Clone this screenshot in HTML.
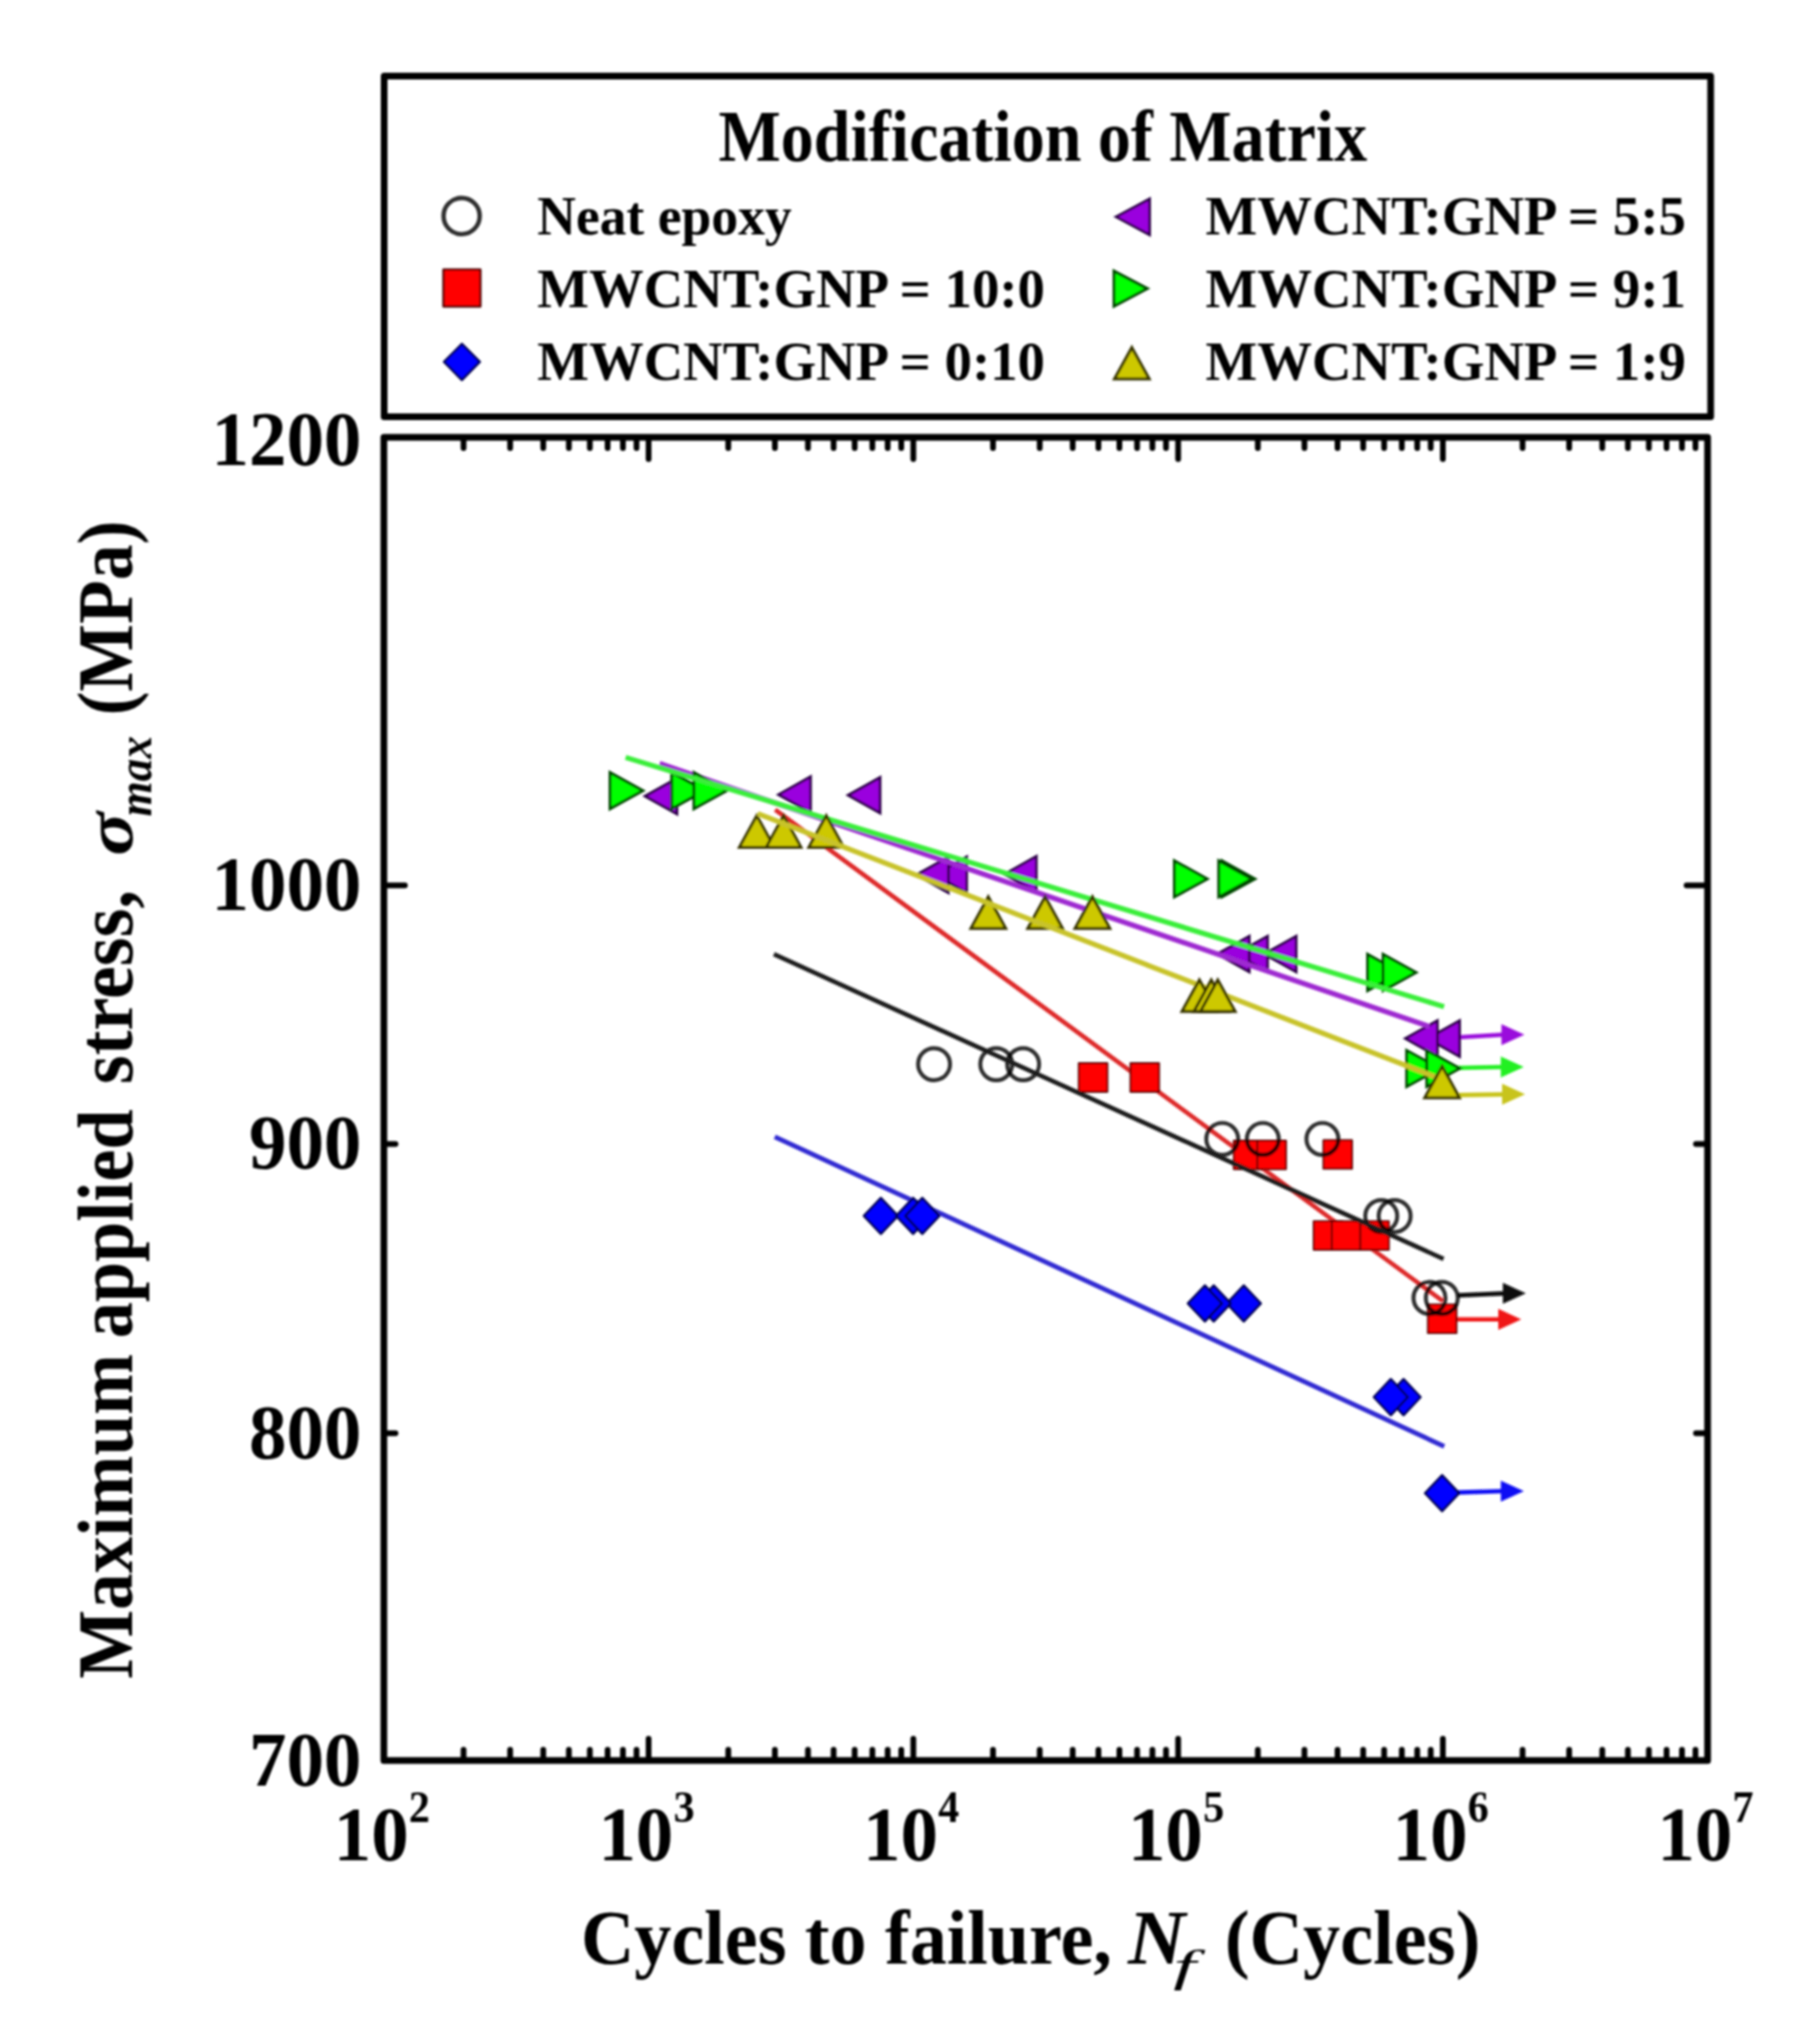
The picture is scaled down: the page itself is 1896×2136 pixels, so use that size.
<!DOCTYPE html>
<html lang="en"><head><meta charset="utf-8"><title>S-N curve: Modification of Matrix</title>
<style>
html,body{margin:0;padding:0;background:#fff;}
body{width:1896px;height:2136px;overflow:hidden;}
svg{display:block;}
text{font-family:"Liberation Serif","DejaVu Serif",serif;font-weight:bold;fill:#000;}
.it{font-style:italic;font-weight:normal;}
.bi{font-style:italic;font-weight:bold;}
.ax{stroke:#000;stroke-linecap:butt;stroke-linejoin:round;fill:none;}
</style></head><body>
<svg width="1896" height="2136" viewBox="0 0 1896 2136">
<defs><filter id="soft" x="-2%" y="-2%" width="104%" height="104%"><feGaussianBlur stdDeviation="1.0"/></filter></defs>
<rect x="0" y="0" width="1896" height="2136" fill="#fff"/>
<g filter="url(#soft)">
<rect class="ax" x="401.5" y="79.5" width="1386.5" height="356.0" stroke-width="7.0"/>
<rect class="ax" x="401.2" y="456.9" width="1383.6" height="1382.8" stroke-width="7.0"/>
<path class="ax" stroke-width="6.0" style="stroke-linecap:round" d="M484.5 456.9v11.3M484.5 1839.7v-11.3M533.2 456.9v11.3M533.2 1839.7v-11.3M567.8 456.9v11.3M567.8 1839.7v-11.3M594.6 456.9v11.3M594.6 1839.7v-11.3M616.5 456.9v11.3M616.5 1839.7v-11.3M635.1 456.9v11.3M635.1 1839.7v-11.3M651.1 456.9v11.3M651.1 1839.7v-11.3M665.3 456.9v11.3M665.3 1839.7v-11.3M677.9 456.9v22.8M677.9 1839.7v-22.8M761.2 456.9v11.3M761.2 1839.7v-11.3M809.9 456.9v11.3M809.9 1839.7v-11.3M844.5 456.9v11.3M844.5 1839.7v-11.3M871.3 456.9v11.3M871.3 1839.7v-11.3M893.3 456.9v11.3M893.3 1839.7v-11.3M911.8 456.9v11.3M911.8 1839.7v-11.3M927.8 456.9v11.3M927.8 1839.7v-11.3M942.0 456.9v11.3M942.0 1839.7v-11.3M954.6 456.9v22.8M954.6 1839.7v-22.8M1037.9 456.9v11.3M1037.9 1839.7v-11.3M1086.7 456.9v11.3M1086.7 1839.7v-11.3M1121.2 456.9v11.3M1121.2 1839.7v-11.3M1148.1 456.9v11.3M1148.1 1839.7v-11.3M1170.0 456.9v11.3M1170.0 1839.7v-11.3M1188.5 456.9v11.3M1188.5 1839.7v-11.3M1204.5 456.9v11.3M1204.5 1839.7v-11.3M1218.7 456.9v11.3M1218.7 1839.7v-11.3M1231.4 456.9v22.8M1231.4 1839.7v-22.8M1314.7 456.9v11.3M1314.7 1839.7v-11.3M1363.4 456.9v11.3M1363.4 1839.7v-11.3M1398.0 456.9v11.3M1398.0 1839.7v-11.3M1424.8 456.9v11.3M1424.8 1839.7v-11.3M1446.7 456.9v11.3M1446.7 1839.7v-11.3M1465.2 456.9v11.3M1465.2 1839.7v-11.3M1481.3 456.9v11.3M1481.3 1839.7v-11.3M1495.4 456.9v11.3M1495.4 1839.7v-11.3M1508.1 456.9v22.8M1508.1 1839.7v-22.8M1591.4 456.9v11.3M1591.4 1839.7v-11.3M1640.1 456.9v11.3M1640.1 1839.7v-11.3M1674.7 456.9v11.3M1674.7 1839.7v-11.3M1701.5 456.9v11.3M1701.5 1839.7v-11.3M1723.4 456.9v11.3M1723.4 1839.7v-11.3M1741.9 456.9v11.3M1741.9 1839.7v-11.3M1758.0 456.9v11.3M1758.0 1839.7v-11.3M1772.1 456.9v11.3M1772.1 1839.7v-11.3"/>
<path class="ax" stroke-width="6.0" style="stroke-linecap:round" d="M401.2 925.2h22.0M1784.8 925.2h-22.0M401.2 1195.6h12.2M1784.8 1195.6h-12.2M401.2 1497.7h12.2M1784.8 1497.7h-12.2"/>
<text x="377.8" y="485.9" font-size="80" text-anchor="end" textLength="156.8" lengthAdjust="spacingAndGlyphs">1200</text>
<text x="377.8" y="951.0" font-size="80" text-anchor="end" textLength="156.8" lengthAdjust="spacingAndGlyphs">1000</text>
<text x="377.8" y="1221.4" font-size="80" text-anchor="end" textLength="117.6" lengthAdjust="spacingAndGlyphs">900</text>
<text x="377.8" y="1523.5" font-size="80" text-anchor="end" textLength="117.6" lengthAdjust="spacingAndGlyphs">800</text>
<text x="377.8" y="1866.1" font-size="80" text-anchor="end" textLength="117.6" lengthAdjust="spacingAndGlyphs">700</text>
<text x="348.7" y="1944.3" font-size="80" text-anchor="start" textLength="78.4" lengthAdjust="spacingAndGlyphs">10</text>
<text x="427.2" y="1903.5" font-size="46" text-anchor="start" textLength="22.1" lengthAdjust="spacingAndGlyphs">2</text>
<text x="625.4" y="1944.3" font-size="80" text-anchor="start" textLength="78.4" lengthAdjust="spacingAndGlyphs">10</text>
<text x="703.9" y="1903.5" font-size="46" text-anchor="start" textLength="22.1" lengthAdjust="spacingAndGlyphs">3</text>
<text x="902.1" y="1944.3" font-size="80" text-anchor="start" textLength="78.4" lengthAdjust="spacingAndGlyphs">10</text>
<text x="980.6" y="1903.5" font-size="46" text-anchor="start" textLength="22.1" lengthAdjust="spacingAndGlyphs">4</text>
<text x="1178.9" y="1944.3" font-size="80" text-anchor="start" textLength="78.4" lengthAdjust="spacingAndGlyphs">10</text>
<text x="1257.4" y="1903.5" font-size="46" text-anchor="start" textLength="22.1" lengthAdjust="spacingAndGlyphs">5</text>
<text x="1455.6" y="1944.3" font-size="80" text-anchor="start" textLength="78.4" lengthAdjust="spacingAndGlyphs">10</text>
<text x="1534.1" y="1903.5" font-size="46" text-anchor="start" textLength="22.1" lengthAdjust="spacingAndGlyphs">6</text>
<text x="1732.3" y="1944.3" font-size="80" text-anchor="start" textLength="78.4" lengthAdjust="spacingAndGlyphs">10</text>
<text x="1810.8" y="1903.5" font-size="46" text-anchor="start" textLength="22.1" lengthAdjust="spacingAndGlyphs">7</text>
<text x="607.2" y="2052.0" font-size="81" textLength="555.0" lengthAdjust="spacingAndGlyphs">Cycles to failure,</text>
<text class="bi" x="1179.0" y="2051.5" font-size="81" textLength="60.0" lengthAdjust="spacingAndGlyphs">N</text>
<text class="it" x="1226.3" y="2070.4" font-size="47" textLength="23.7" lengthAdjust="spacingAndGlyphs">f</text>
<text x="1280.3" y="2052.0" font-size="81" textLength="266.9" lengthAdjust="spacingAndGlyphs">(Cycles)</text>
<text transform="translate(137.6 1753.0) rotate(-90)" x="-1.3" y="0" font-size="83" textLength="339.3" lengthAdjust="spacingAndGlyphs">Maximum</text>
<text transform="translate(137.6 1396.0) rotate(-90)" x="-2.5" y="0" font-size="83" textLength="239.3" lengthAdjust="spacingAndGlyphs">applied</text>
<text transform="translate(137.6 1130.6) rotate(-90)" x="-2.3" y="0" font-size="83" textLength="202.8" lengthAdjust="spacingAndGlyphs">stress,</text>
<text class="bi" transform="translate(137.6 892.0) rotate(-90)" x="-2.3" y="0" font-size="72" textLength="45.8" lengthAdjust="spacingAndGlyphs">σ</text>
<text class="bi" transform="translate(157.6 852.4) rotate(-90)" x="-0.9" y="0" font-size="50" textLength="84.1" lengthAdjust="spacingAndGlyphs">max</text>
<text transform="translate(137.6 744.4) rotate(-90)" x="-3.2" y="0" font-size="83" textLength="203.6" lengthAdjust="spacingAndGlyphs">(MPa)</text>
<text x="751" y="168.2" font-size="77" textLength="678" lengthAdjust="spacingAndGlyphs">Modification of Matrix</text>
<text x="561.5" y="244.5" font-size="56" text-anchor="start" textLength="265.9" lengthAdjust="spacingAndGlyphs">Neat epoxy</text>
<text x="561.5" y="320.8" font-size="56" text-anchor="start" textLength="530.7" lengthAdjust="spacingAndGlyphs">MWCNT:GNP = 10:0</text>
<text x="561.5" y="397.0" font-size="56" text-anchor="start" textLength="530.7" lengthAdjust="spacingAndGlyphs">MWCNT:GNP = 0:10</text>
<text x="1260.0" y="244.5" font-size="56" text-anchor="start" textLength="502.1" lengthAdjust="spacingAndGlyphs">MWCNT:GNP = 5:5</text>
<text x="1260.0" y="320.8" font-size="56" text-anchor="start" textLength="502.1" lengthAdjust="spacingAndGlyphs">MWCNT:GNP = 9:1</text>
<text x="1260.0" y="397.0" font-size="56" text-anchor="start" textLength="502.1" lengthAdjust="spacingAndGlyphs">MWCNT:GNP = 1:9</text>
<circle cx="482.5" cy="225.8" r="18.9" fill="none" stroke="#000" stroke-opacity="0.82" stroke-width="4.6"/>
<rect x="463.5" y="281.6" width="38.6" height="38.6" fill="#ff0000" stroke="#520000" stroke-width="2.4" stroke-linejoin="round"/>
<path d="M482.8 359.3L501.5 378.2L482.8 397.1L464.1 378.2Z" fill="#0000ff" stroke="#000052" stroke-width="2.4" stroke-linejoin="round"/>
<path d="M1166.4 226.6L1201.6 207.7L1201.6 245.5Z" fill="#9a00de" stroke="#2c0046" stroke-width="2.7" stroke-linejoin="miter"/>
<path d="M1199.3 301.6L1164.3 283.1L1164.3 320.1Z" fill="#00ff00" stroke="#064806" stroke-width="2.9" stroke-linejoin="miter"/>
<path d="M1183.0 363.2L1201.2 396.0L1164.8 396.0Z" fill="#cdc800" stroke="#383600" stroke-width="3.0" stroke-linejoin="miter"/>
<g id="series">
<polyline points="810.2,846.1 1508.0,1359.6" fill="none" stroke="#de2a2a" stroke-width="4.7" stroke-linecap="butt"/>
<path d="M1522.0 1378.7L1568.0 1378.7" stroke="#f01414" stroke-width="4.6" fill="none"/><path d="M1590.0 1378.7L1566.0 1367.7L1566.0 1389.7Z" fill="#f01414"/>
<rect x="1127.5" y="1111.0" width="30.0" height="30.0" fill="#ff0000" stroke="#520000" stroke-width="1.8" stroke-linejoin="round"/>
<rect x="1181.5" y="1111.0" width="30.0" height="30.0" fill="#ff0000" stroke="#520000" stroke-width="1.8" stroke-linejoin="round"/>
<rect x="1289.5" y="1191.8" width="30.0" height="30.0" fill="#ff0000" stroke="#520000" stroke-width="1.8" stroke-linejoin="round"/>
<rect x="1314.2" y="1191.8" width="30.0" height="30.0" fill="#ff0000" stroke="#520000" stroke-width="1.8" stroke-linejoin="round"/>
<rect x="1383.2" y="1191.4" width="30.0" height="30.0" fill="#ff0000" stroke="#520000" stroke-width="1.8" stroke-linejoin="round"/>
<rect x="1373.0" y="1276.1" width="30.0" height="30.0" fill="#ff0000" stroke="#520000" stroke-width="1.8" stroke-linejoin="round"/>
<rect x="1392.0" y="1276.1" width="30.0" height="30.0" fill="#ff0000" stroke="#520000" stroke-width="1.8" stroke-linejoin="round"/>
<rect x="1421.7" y="1276.1" width="30.0" height="30.0" fill="#ff0000" stroke="#520000" stroke-width="1.8" stroke-linejoin="round"/>
<rect x="1492.4" y="1363.2" width="30.0" height="30.0" fill="#ff0000" stroke="#520000" stroke-width="1.8" stroke-linejoin="round"/>
<polyline points="809.8,1187.9 1509.5,1511.5" fill="none" stroke="#302cd2" stroke-width="5.0" stroke-linecap="butt"/>
<path d="M1524.0 1559.6L1570.7 1558.2" stroke="#1010f4" stroke-width="4.6" fill="none"/><path d="M1592.7 1558.2L1568.7 1547.2L1568.7 1569.2Z" fill="#1010f4"/>
<path d="M920.7 1251.8L938.5 1270.6L920.7 1289.4L902.9 1270.6Z" fill="#0000ff" stroke="#000052" stroke-width="2.4" stroke-linejoin="round"/>
<path d="M954.4 1251.8L972.2 1270.6L954.4 1289.4L936.6 1270.6Z" fill="#0000ff" stroke="#000052" stroke-width="2.4" stroke-linejoin="round"/>
<path d="M964.0 1251.8L981.8 1270.6L964.0 1289.4L946.2 1270.6Z" fill="#0000ff" stroke="#000052" stroke-width="2.4" stroke-linejoin="round"/>
<path d="M1300.0 1343.3L1317.8 1362.1L1300.0 1380.9L1282.2 1362.1Z" fill="#0000ff" stroke="#000052" stroke-width="2.4" stroke-linejoin="round"/>
<path d="M1268.6 1343.3L1286.4 1362.1L1268.6 1380.9L1250.8 1362.1Z" fill="#0000ff" stroke="#000052" stroke-width="2.4" stroke-linejoin="round"/>
<path d="M1259.4 1343.3L1277.2 1362.1L1259.4 1380.9L1241.6 1362.1Z" fill="#0000ff" stroke="#000052" stroke-width="2.4" stroke-linejoin="round"/>
<path d="M1467.0 1441.2L1484.8 1460.0L1467.0 1478.8L1449.2 1460.0Z" fill="#0000ff" stroke="#000052" stroke-width="2.4" stroke-linejoin="round"/>
<path d="M1453.7 1441.2L1471.5 1460.0L1453.7 1478.8L1435.9 1460.0Z" fill="#0000ff" stroke="#000052" stroke-width="2.4" stroke-linejoin="round"/>
<path d="M1507.3 1541.6L1525.1 1560.4L1507.3 1579.2L1489.5 1560.4Z" fill="#0000ff" stroke="#000052" stroke-width="2.4" stroke-linejoin="round"/>
<path d="M1524.0 1084.0L1571.3 1081.2" stroke="#9a10dc" stroke-width="4.6" fill="none"/><path d="M1593.3 1081.2L1569.3 1070.2L1569.3 1092.2Z" fill="#9a10dc"/>
<path d="M1492.1 1085.3L1525.6 1066.5L1525.6 1104.1Z" fill="#9a00de" stroke="#2c0046" stroke-width="2.7" stroke-linejoin="miter"/>
<path d="M1468.9 1085.3L1502.4 1066.5L1502.4 1104.1Z" fill="#9a00de" stroke="#2c0046" stroke-width="2.7" stroke-linejoin="miter"/>
<path d="M1321.3 997.0L1354.8 978.2L1354.8 1015.8Z" fill="#9a00de" stroke="#2c0046" stroke-width="2.7" stroke-linejoin="miter"/>
<path d="M1291.4 997.0L1324.9 978.2L1324.9 1015.8Z" fill="#9a00de" stroke="#2c0046" stroke-width="2.7" stroke-linejoin="miter"/>
<path d="M1272.3 997.0L1305.8 978.2L1305.8 1015.8Z" fill="#9a00de" stroke="#2c0046" stroke-width="2.7" stroke-linejoin="miter"/>
<path d="M1049.7 913.6L1083.2 894.8L1083.2 932.4Z" fill="#9a00de" stroke="#2c0046" stroke-width="2.7" stroke-linejoin="miter"/>
<path d="M976.9 914.2L1010.4 895.4L1010.4 933.0Z" fill="#9a00de" stroke="#2c0046" stroke-width="2.7" stroke-linejoin="miter"/>
<path d="M957.8 914.2L991.3 895.4L991.3 933.0Z" fill="#9a00de" stroke="#2c0046" stroke-width="2.7" stroke-linejoin="miter"/>
<path d="M886.4 831.0L919.9 812.2L919.9 849.8Z" fill="#9a00de" stroke="#2c0046" stroke-width="2.7" stroke-linejoin="miter"/>
<path d="M813.7 830.4L847.2 811.6L847.2 849.2Z" fill="#9a00de" stroke="#2c0046" stroke-width="2.7" stroke-linejoin="miter"/>
<path d="M674.1 832.0L707.6 813.2L707.6 850.8Z" fill="#9a00de" stroke="#2c0046" stroke-width="2.7" stroke-linejoin="miter"/>
<polyline points="689.5,797.8 1494.0,1072.8" fill="none" stroke="#9e2ad0" stroke-width="5.4" stroke-linecap="butt"/>
<path d="M1522.0 1116.0L1570.6 1115.0" stroke="#22f022" stroke-width="4.6" fill="none"/><path d="M1592.6 1115.0L1568.6 1104.0L1568.6 1126.0Z" fill="#22f022"/>
<path d="M672.1 826.2L637.6 807.2L637.6 845.2Z" fill="#00ff00" stroke="#064806" stroke-width="2.9" stroke-linejoin="miter"/>
<path d="M736.5 826.2L702.0 807.2L702.0 845.2Z" fill="#00ff00" stroke="#064806" stroke-width="2.9" stroke-linejoin="miter"/>
<path d="M759.7 826.2L725.2 807.2L725.2 845.2Z" fill="#00ff00" stroke="#064806" stroke-width="2.9" stroke-linejoin="miter"/>
<path d="M1261.9 918.4L1227.4 899.4L1227.4 937.4Z" fill="#00ff00" stroke="#064806" stroke-width="2.9" stroke-linejoin="miter"/>
<path d="M1311.7 918.4L1277.2 899.4L1277.2 937.4Z" fill="#00ff00" stroke="#064806" stroke-width="2.9" stroke-linejoin="miter"/>
<path d="M1308.3 918.4L1273.8 899.4L1273.8 937.4Z" fill="#00ff00" stroke="#064806" stroke-width="2.9" stroke-linejoin="miter"/>
<path d="M1463.9 1016.3L1429.4 997.3L1429.4 1035.3Z" fill="#00ff00" stroke="#064806" stroke-width="2.9" stroke-linejoin="miter"/>
<path d="M1480.1 1016.3L1445.6 997.3L1445.6 1035.3Z" fill="#00ff00" stroke="#064806" stroke-width="2.9" stroke-linejoin="miter"/>
<path d="M1504.7 1116.6L1470.2 1097.6L1470.2 1135.6Z" fill="#00ff00" stroke="#064806" stroke-width="2.9" stroke-linejoin="miter"/>
<path d="M1525.7 1116.6L1491.2 1097.6L1491.2 1135.6Z" fill="#00ff00" stroke="#064806" stroke-width="2.9" stroke-linejoin="miter"/>
<polyline points="653.9,791.5 1509.3,1052.0" fill="none" stroke="#3aee3a" stroke-width="5.4" stroke-linecap="butt"/>
<polyline points="1199.0,1008.4 1501.0,1125.8" fill="none" stroke="#c8c32c" stroke-width="5.4" stroke-linecap="butt"/>
<path d="M1524.0 1144.4L1572.0 1143.6" stroke="#c8c41c" stroke-width="4.6" fill="none"/><path d="M1594.0 1143.6L1570.0 1132.6L1570.0 1154.6Z" fill="#c8c41c"/>
<path d="M791.0 852.4L809.2 885.4L772.8 885.4Z" fill="#cdc800" stroke="#383600" stroke-width="3.0" stroke-linejoin="miter"/>
<path d="M819.0 852.4L837.2 885.4L800.8 885.4Z" fill="#cdc800" stroke="#383600" stroke-width="3.0" stroke-linejoin="miter"/>
<path d="M863.6 852.4L881.8 885.4L845.4 885.4Z" fill="#cdc800" stroke="#383600" stroke-width="3.0" stroke-linejoin="miter"/>
<path d="M1033.0 937.2L1051.2 970.2L1014.8 970.2Z" fill="#cdc800" stroke="#383600" stroke-width="3.0" stroke-linejoin="miter"/>
<path d="M1092.4 937.2L1110.6 970.2L1074.2 970.2Z" fill="#cdc800" stroke="#383600" stroke-width="3.0" stroke-linejoin="miter"/>
<path d="M1141.8 937.2L1160.0 970.2L1123.6 970.2Z" fill="#cdc800" stroke="#383600" stroke-width="3.0" stroke-linejoin="miter"/>
<path d="M1253.6 1024.0L1271.8 1057.0L1235.4 1057.0Z" fill="#cdc800" stroke="#383600" stroke-width="3.0" stroke-linejoin="miter"/>
<path d="M1266.0 1024.0L1284.2 1057.0L1247.8 1057.0Z" fill="#cdc800" stroke="#383600" stroke-width="3.0" stroke-linejoin="miter"/>
<path d="M1272.8 1024.0L1291.0 1057.0L1254.6 1057.0Z" fill="#cdc800" stroke="#383600" stroke-width="3.0" stroke-linejoin="miter"/>
<path d="M1507.3 1114.3L1525.5 1147.3L1489.1 1147.3Z" fill="#cdc800" stroke="#383600" stroke-width="3.0" stroke-linejoin="miter"/>
<polyline points="792.0,850.2 1200.0,1008.8" fill="none" stroke="#c8c32c" stroke-width="5.4" stroke-linecap="butt"/>
<path d="M1524.0 1353.6L1572.8 1351.6" stroke="#0c0c0c" stroke-width="4.6" fill="none"/><path d="M1594.8 1351.6L1570.8 1340.6L1570.8 1362.6Z" fill="#0c0c0c"/>
<circle cx="976.3" cy="1112.1" r="16.7" fill="none" stroke="#000" stroke-opacity="0.82" stroke-width="4.2"/>
<circle cx="1041.3" cy="1112.1" r="16.7" fill="none" stroke="#000" stroke-opacity="0.82" stroke-width="4.2"/>
<circle cx="1069.4" cy="1112.1" r="16.7" fill="none" stroke="#000" stroke-opacity="0.82" stroke-width="4.2"/>
<circle cx="1277.5" cy="1190.2" r="16.7" fill="none" stroke="#000" stroke-opacity="0.82" stroke-width="4.2"/>
<circle cx="1319.9" cy="1190.2" r="16.7" fill="none" stroke="#000" stroke-opacity="0.82" stroke-width="4.2"/>
<circle cx="1382.2" cy="1190.2" r="16.7" fill="none" stroke="#000" stroke-opacity="0.82" stroke-width="4.2"/>
<circle cx="1443.7" cy="1270.8" r="16.7" fill="none" stroke="#000" stroke-opacity="0.82" stroke-width="4.2"/>
<circle cx="1457.7" cy="1270.8" r="16.7" fill="none" stroke="#000" stroke-opacity="0.82" stroke-width="4.2"/>
<circle cx="1494.1" cy="1356.4" r="16.7" fill="none" stroke="#000" stroke-opacity="0.82" stroke-width="4.2"/>
<circle cx="1507.0" cy="1356.4" r="16.7" fill="none" stroke="#000" stroke-opacity="0.82" stroke-width="4.2"/>
<polyline points="808.9,997.2 1508.8,1315.6" fill="none" stroke="#1c1c1c" stroke-width="4.7" stroke-linecap="butt"/>
</g>
</g>
</svg>
</body></html>
